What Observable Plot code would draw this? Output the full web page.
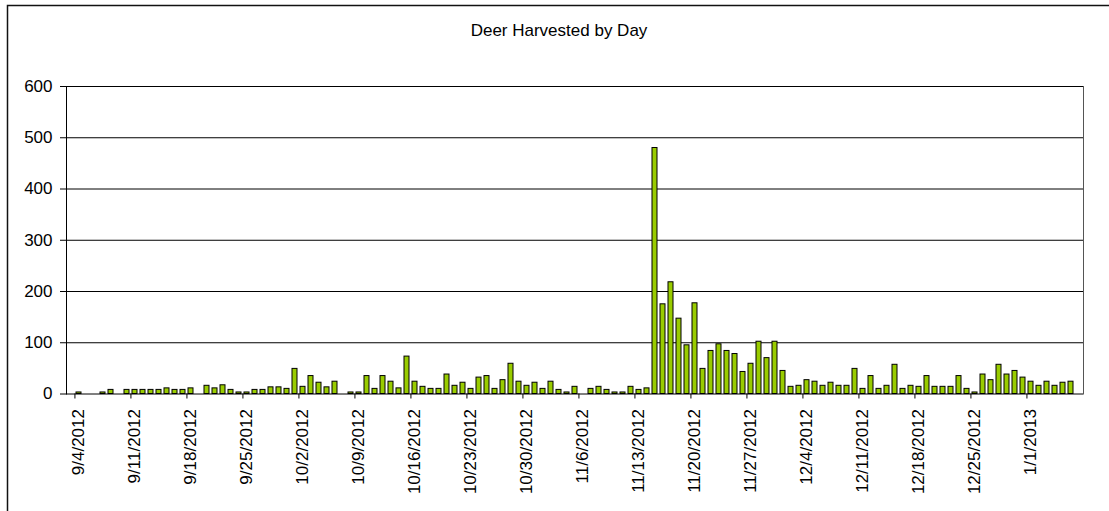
<!DOCTYPE html>
<html>
<head>
<meta charset="utf-8">
<script src="https://cdn.jsdelivr.net/npm/d3@7"></script>
<script src="https://cdn.jsdelivr.net/npm/@observablehq/plot@0.6"></script>
<style>
  html, body { margin: 0; padding: 0; background: #fff; overflow: hidden; }
  #chart svg { display: block; }
</style>
</head>
<body>
<div id="chart"></div>
<script>
// ---- Data ----
const title = "Deer Harvested by Day";
const firstDay = "2012-09-04";   // first category (9/4/2012), one category per day
const harvested = [
  3, 0, 0, 3, 8, 0, 8,            // 9/4 - 9/10
  8, 8, 8, 8, 11, 8, 8,           // 9/11 - 9/17
  11, 0, 16, 11, 17, 8, 3,        // 9/18 - 9/24
  3, 8, 8, 13, 13, 10, 49,        // 9/25 - 10/1
  14, 35, 22, 13, 24, 0, 3,       // 10/2 - 10/8
  3, 35, 10, 35, 24, 11, 73,      // 10/9 - 10/15
  24, 14, 10, 10, 38, 16, 22,     // 10/16 - 10/22
  10, 32, 35, 10, 27, 59, 24,     // 10/23 - 10/29
  16, 22, 10, 24, 8, 3, 14,       // 10/30 - 11/5
  0, 10, 14, 8, 3, 3, 14,         // 11/6 - 11/12
  8, 11, 480, 175, 218, 147, 95,  // 11/13 - 11/19
  177, 49, 84, 97, 84, 78, 43,    // 11/20 - 11/26
  59, 102, 70, 102, 45, 14, 16,   // 11/27 - 12/3
  27, 24, 16, 22, 16, 16, 49,     // 12/4 - 12/10
  10, 35, 10, 16, 57, 10, 16,     // 12/11 - 12/17
  14, 35, 14, 14, 14, 35, 10,     // 12/18 - 12/24
  3, 38, 27, 57, 38, 45, 32,      // 12/25 - 12/31
  24, 16, 24, 16, 22, 24          // 1/1 - 1/6
];
const weekLabels = [
  "9/4/2012", "9/11/2012", "9/18/2012", "9/25/2012", "10/2/2012", "10/9/2012",
  "10/16/2012", "10/23/2012", "10/30/2012", "11/6/2012", "11/13/2012", "11/20/2012",
  "11/27/2012", "12/4/2012", "12/11/2012", "12/18/2012", "12/25/2012", "1/1/2013"
];
const yTicks = [0, 100, 200, 300, 400, 500, 600];

// ---- Build table ----
const fmt = d3.utcFormat("%-m/%-d/%Y");
const start = new Date(firstDay + "T00:00:00Z");
const days = harvested.map((_, i) => fmt(d3.utcDay.offset(start, i)));
const table = harvested.map((v, i) => ({day: days[i], value: v}));

const W = 1109, H = 511;
const mL = 66, mR = 26, mT = 86, mB = 117.5;
const step = (W - mL - mR) / days.length;
const font = "'Liberation Sans', Arial, Helvetica, sans-serif";

const chart = Plot.plot({
  width: W,
  height: H,
  marginLeft: mL,
  marginRight: mR,
  marginTop: mT,
  marginBottom: mB,
  style: {fontFamily: font, fontSize: "17px", color: "#000", background: "#fff"},
  x: {type: "band", domain: days, paddingInner: 0.42, paddingOuter: 0.21},
  y: {domain: [0, 600]},
  marks: [
    Plot.ruleY(yTicks.filter(d => d > 0), {stroke: "#000", strokeWidth: 1}),
    Plot.barY(table, {x: "day", y: "value", fill: "#99cc00", stroke: "#000", strokeWidth: 1}),
    Plot.frame({anchor: "left", stroke: "#000"}),
    Plot.frame({anchor: "right", stroke: "#555"}),
    Plot.ruleY([0], {stroke: "#000", strokeWidth: 1}),
    Plot.axisY({ticks: yTicks, tickSize: 6, tickPadding: 8, fontSize: 17, label: null, stroke: "#000"}),
    Plot.axisX({ticks: weekLabels, tickSize: 5, tickFormat: () => "", dx: -step / 2, label: null, stroke: "#000"}),
    Plot.axisX({ticks: weekLabels, tickSize: 0, tickRotate: -90, tickPadding: 15, fontSize: 17, label: null}),
    Plot.text([title], {frameAnchor: "top", lineAnchor: "middle", dy: -56, dx: -16, fontSize: 17, fill: "#000"})
  ]
});

document.getElementById("chart").appendChild(chart);

// outer chart border (left and top edges visible in the reference)
d3.select(chart).append("rect")
  .attr("x", 7.5).attr("y", 5.5)
  .attr("width", W + 50).attr("height", H + 50)
  .attr("fill", "none").attr("stroke", "#111").attr("stroke-width", 1.5);
</script>
</body>
</html>
